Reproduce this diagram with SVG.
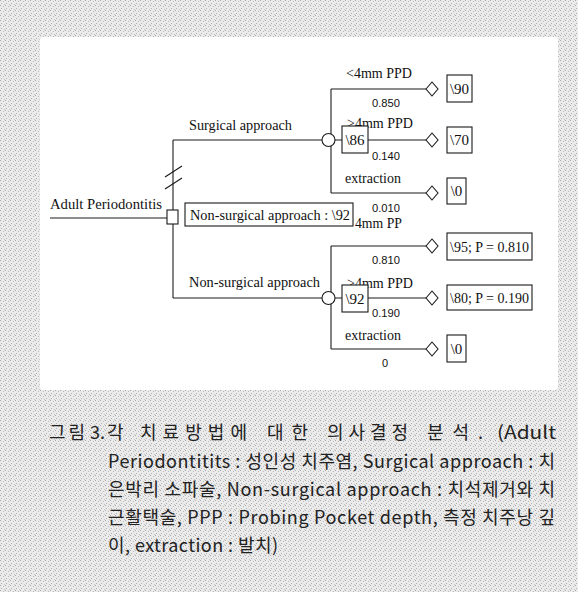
<svg xmlns="http://www.w3.org/2000/svg" width="578" height="592" viewBox="0 0 578 592">
<defs>
<pattern id="tex" width="5" height="5" patternUnits="userSpaceOnUse">
<rect width="5" height="5" fill="#ebebeb"/>
<rect x="0" y="0" width="1" height="1" fill="#a9a9a9"/>
<rect x="3" y="1" width="1" height="1" fill="#b8b8b8"/>
<rect x="1" y="3" width="1" height="1" fill="#b0b0b0"/>
<rect x="4" y="4" width="1" height="1" fill="#c4c4c4"/>
</pattern>
<style>
.ln{stroke:#1a1a1a;stroke-width:1.1;fill:none}
.nd{stroke:#1a1a1a;stroke-width:1.1;fill:#fff}
.lb{font-family:"Liberation Serif","DejaVu Serif",serif;font-size:15px;fill:#111}
.pr{font-family:"Liberation Sans","DejaVu Sans",sans-serif;font-size:11px;fill:#111}
.cap{font-family:"Noto Sans CJK KR","Noto Sans",sans-serif;font-size:18px;fill:#222}
</style>
</defs>
<rect width="578" height="592" fill="url(#tex)"/>
<rect x="40" y="37" width="518" height="353" rx="4" fill="#fff"/>

<g id="connectors">
<line class="ln" x1="50" y1="218" x2="167" y2="218"/>
<line class="ln" x1="173" y1="140" x2="173" y2="298"/>
<line class="ln" x1="173" y1="140" x2="322" y2="140"/>
<line class="ln" x1="173" y1="298" x2="322" y2="298"/>
<line class="ln" x1="165" y1="177" x2="182" y2="166"/>
<line class="ln" x1="165" y1="189" x2="182" y2="178"/>
<line class="ln" x1="331" y1="89" x2="331" y2="193"/>
<line class="ln" x1="331" y1="89" x2="426" y2="89"/>
<line class="ln" x1="335" y1="140" x2="426" y2="140"/>
<line class="ln" x1="331" y1="193" x2="426" y2="193"/>
<line class="ln" x1="331" y1="246" x2="331" y2="349"/>
<line class="ln" x1="331" y1="246" x2="426" y2="246"/>
<line class="ln" x1="335" y1="298" x2="426" y2="298"/>
<line class="ln" x1="331" y1="349" x2="426" y2="349"/>
</g>

<g id="labels">
<text class="lb" x="50" y="209" textLength="112" lengthAdjust="spacingAndGlyphs">Adult Periodontitis</text>
<text class="lb" x="189" y="130" textLength="103" lengthAdjust="spacingAndGlyphs">Surgical approach</text>
<text class="lb" x="189" y="287" textLength="131" lengthAdjust="spacingAndGlyphs">Non-surgical approach</text>
<text class="lb" x="346" y="78" textLength="66" lengthAdjust="spacingAndGlyphs">&lt;4mm PPD</text>
<text class="pr" x="372" y="107" textLength="28" lengthAdjust="spacingAndGlyphs">0.850</text>
<text class="lb" x="347" y="128" textLength="66" lengthAdjust="spacingAndGlyphs">&gt;4mm PPD</text>
<text class="pr" x="372" y="160" textLength="28" lengthAdjust="spacingAndGlyphs">0.140</text>
<text class="lb" x="345" y="183" textLength="56" lengthAdjust="spacingAndGlyphs">extraction</text>
<text class="pr" x="372" y="212" textLength="28" lengthAdjust="spacingAndGlyphs">0.010</text>
<text class="lb" x="355" y="228" textLength="47" lengthAdjust="spacingAndGlyphs">4mm PP</text>
<text class="pr" x="372" y="264" textLength="28" lengthAdjust="spacingAndGlyphs">0.810</text>
<text class="lb" x="347" y="288" textLength="66" lengthAdjust="spacingAndGlyphs">&gt;4mm PPD</text>
<text class="pr" x="372" y="317" textLength="28" lengthAdjust="spacingAndGlyphs">0.190</text>
<text class="lb" x="345" y="340" textLength="56" lengthAdjust="spacingAndGlyphs">extraction</text>
<text class="pr" x="382" y="367">0</text>
</g>

<g id="root">
<rect class="nd" x="167" y="210" width="11" height="14"/>
</g>
<g id="nonsurg-note">
<rect class="nd" x="185" y="203" width="168" height="23"/>
<text class="lb" x="190" y="220" textLength="160" lengthAdjust="spacingAndGlyphs">Non-surgical approach : \92</text>
</g>

<g id="chance-surgical">
<circle class="nd" cx="328.5" cy="140" r="6.5"/>
<rect class="nd" x="342" y="126" width="26" height="27"/>
<text class="lb" x="355" y="145" text-anchor="middle">\86</text>
</g>
<g id="chance-nonsurgical">
<circle class="nd" cx="328.5" cy="298" r="6.5"/>
<rect class="nd" x="342" y="285" width="26" height="27"/>
<text class="lb" x="355" y="304" text-anchor="middle">\92</text>
</g>

<g id="t1"><polygon class="nd" points="426,89 432,82 438,89 432,96"/><rect class="nd" x="447" y="75" width="25" height="27"/><text class="lb" x="459.5" y="94" text-anchor="middle">\90</text></g>
<g id="t2"><polygon class="nd" points="426,140 432,133 438,140 432,147"/><rect class="nd" x="447" y="127" width="25" height="26"/><text class="lb" x="459.5" y="145" text-anchor="middle">\70</text></g>
<g id="t3"><polygon class="nd" points="426,193 432,186 438,193 432,200"/><rect class="nd" x="447" y="178" width="19" height="26"/><text class="lb" x="456.5" y="196" text-anchor="middle">\0</text></g>
<g id="t4"><polygon class="nd" points="426,246 432,239 438,246 432,253"/><rect class="nd" x="447" y="233" width="85" height="27"/><text class="lb" x="450" y="252" textLength="79" lengthAdjust="spacingAndGlyphs">\95; P = 0.810</text></g>
<g id="t5"><polygon class="nd" points="426,298 432,291 438,298 432,305"/><rect class="nd" x="447" y="285" width="85" height="25"/><text class="lb" x="450" y="303" textLength="79" lengthAdjust="spacingAndGlyphs">\80; P = 0.190</text></g>
<g id="t6"><polygon class="nd" points="426,349 432,342 438,349 432,356"/><rect class="nd" x="447" y="335" width="19" height="27"/><text class="lb" x="456.5" y="354" text-anchor="middle">\0</text></g>

<g id="caption">
<text class="cap" x="49" y="439" textLength="36" lengthAdjust="spacing">그림</text>
<text class="cap" x="90" y="439">3.</text>
<text class="cap" x="107" y="439">각</text>
<text class="cap" x="140" y="439" textLength="107" lengthAdjust="spacing">치료방법에</text>
<text class="cap" x="267" y="439" textLength="41" lengthAdjust="spacing">대한</text>
<text class="cap" x="327" y="439" textLength="81" lengthAdjust="spacing">의사결정</text>
<text class="cap" x="427" y="439" textLength="56" lengthAdjust="spacing">분석.</text>
<text class="cap" x="497" y="439" textLength="59" lengthAdjust="spacingAndGlyphs">(Adult</text>
<text class="cap" x="108" y="468" textLength="447" lengthAdjust="spacing">Periodontitits : 성인성 치주염, Surgical approach : 치</text>
<text class="cap" x="108" y="496" textLength="447" lengthAdjust="spacing">은박리 소파술, Non-surgical approach : 치석제거와 치</text>
<text class="cap" x="108" y="524" textLength="447" lengthAdjust="spacing">근활택술, PPP : Probing Pocket depth, 측정 치주낭 깊</text>
<text class="cap" x="108" y="552" textLength="170" lengthAdjust="spacing">이, extraction : 발치)</text>
</g>
</svg>
